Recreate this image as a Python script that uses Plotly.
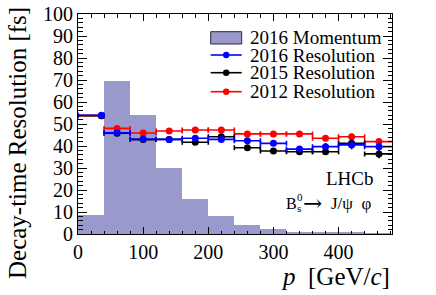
import plotly.graph_objects as go

# ---------------- data ----------------
hist_lo = [0, 40, 80, 120, 160, 200, 240, 280, 320, 360, 400, 440]
hist_hi = [40, 80, 120, 160, 200, 240, 280, 320, 360, 400, 440, 480]
hist_vals = [8.6, 69.7, 54.0, 30.0, 15.9, 8.3, 4.1, 2.4, 1.0, 0.8, 0.5, 0.3]

res_x = [36, 60, 100, 140, 180, 220, 260, 300, 340, 380, 420, 462]
res_lo = [0, 40, 80, 120, 160, 200, 240, 280, 320, 360, 400, 440]
res_hi = [40, 80, 120, 160, 200, 240, 280, 320, 360, 400, 440, 500]

res_2016 = [54.0, 46.0, 43.2, 43.0, 43.5, 43.0, 42.4, 41.2, 38.6, 39.7, 40.5, 39.7]
err_2016 = [0.3, 0.4, 0.4, 0.5, 0.6, 0.7, 0.8, 1.0, 1.3, 1.6, 2.0, 2.2]
res_2015 = [53.8, 45.8, 42.9, 43.0, 41.7, 44.2, 39.2, 37.7, 37.4, 37.4, 41.2, 36.4]
err_2015 = [0.3, 0.4, 0.4, 0.5, 0.6, 0.7, 0.8, 1.0, 1.2, 1.5, 1.8, 2.0]
res_2012 = [53.8, 48.0, 45.9, 46.8, 47.3, 47.3, 45.5, 45.5, 45.5, 43.5, 44.2, 42.0]
err_2012 = [0.3, 0.4, 0.4, 0.5, 0.5, 0.6, 0.7, 0.8, 1.0, 1.2, 1.4, 1.6]

legend_labels = ["2016 Momentum", "2016 Resolution", "2015 Resolution", "2012 Resolution"]
FONT = "Liberation Serif"

fig = go.Figure()

hist_centers = [(a + b) / 2 for a, b in zip(hist_lo, hist_hi)]
hist_widths = [b - a for a, b in zip(hist_lo, hist_hi)]
fig.add_trace(go.Bar(x=hist_centers, y=hist_vals, width=hist_widths,
                     marker=dict(color="rgb(153,153,204)", line=dict(width=0)),
                     showlegend=False))

def res_trace(y, e, color):
    return go.Scatter(
        x=res_x, y=y, mode="markers",
        marker=dict(color=color, size=7),
        error_x=dict(type="data", symmetric=False,
                     array=[h - x for h, x in zip(res_hi, res_x)],
                     arrayminus=[x - l for l, x in zip(res_lo, res_x)],
                     color=color, thickness=1.6, width=2.5),
        error_y=dict(type="data", array=e, color=color, thickness=1.6, width=0),
        showlegend=False, cliponaxis=True)

fig.add_trace(res_trace(res_2012, err_2012, "red"))
fig.add_trace(res_trace(res_2015, err_2015, "black"))
fig.add_trace(res_trace(res_2016, err_2016, "blue"))

W, H = 436, 295
L, R, T, B = 78, 44, 14, 61
PW, PH = W - L - R, H - T - B

def px(xp):
    return (xp - L) / PW

def py(yp):
    return (T + PH - yp) / PH

shapes = []
annotations = []
# manual legend
x0, x1 = px(210.7), px(241.7)
shapes.append(dict(type="rect", xref="paper", yref="paper", x0=x0, x1=x1,
                   y0=py(44), y1=py(31.7), fillcolor="rgb(153,153,204)",
                   line=dict(color="rgb(40,40,60)", width=1)))
rows = [(55, "blue"), (72.7, "black"), (91.7, "red")]
for yrow, col in rows:
    shapes.append(dict(type="line", xref="paper", yref="paper", x0=x0, x1=x1,
                       y0=py(yrow), y1=py(yrow), line=dict(color=col, width=1.6)))
    xc = (210.7 + 241.7) / 2
    shapes.append(dict(type="circle", xref="paper", yref="paper",
                       x0=px(xc - 3.2), x1=px(xc + 3.2), y0=py(yrow + 3.2), y1=py(yrow - 3.2),
                       fillcolor=col, line=dict(color=col, width=0)))
for lab, yrow in zip(legend_labels, [37.8, 55, 72.7, 91.7]):
    annotations.append(dict(text=lab, xref="paper", yref="paper", x=px(248), y=py(yrow),
                            xanchor="left", yanchor="middle", showarrow=False,
                            font=dict(family=FONT, size=19, color="black")))

annotations.append(dict(text="LHCb", xref="paper", yref="paper", x=px(376), y=py(178),
                        xanchor="right", yanchor="middle", showarrow=False,
                        font=dict(family=FONT, size=19, color="black")))
yb = py(203)
annotations.append(dict(text="B", xref="paper", yref="paper", x=px(284), y=yb,
                        xanchor="left", yanchor="middle", showarrow=False,
                        font=dict(family=FONT, size=16, color="black")))
annotations.append(dict(text="0", xref="paper", yref="paper", x=px(294.5), y=yb, yshift=6,
                        xanchor="left", yanchor="middle", showarrow=False,
                        font=dict(family=FONT, size=11, color="black")))
annotations.append(dict(text="s", xref="paper", yref="paper", x=px(294.5), y=yb, yshift=-5,
                        xanchor="left", yanchor="middle", showarrow=False,
                        font=dict(family=FONT, size=11, color="black")))
annotations.append(dict(text="→", xref="paper", yref="paper", x=px(301), y=yb,
                        xanchor="left", yanchor="middle", showarrow=False,
                        font=dict(family="DejaVu Serif", size=23, color="black")))
annotations.append(dict(text="J/ψ&nbsp; φ", xref="paper", yref="paper", x=px(373), y=yb,
                        xanchor="right", yanchor="middle", showarrow=False,
                        font=dict(family=FONT, size=17, color="black")))
# axis titles
annotations.append(dict(text="Decay-time Resolution [fs]", xref="paper", yref="paper",
                        x=px(17), y=py(143), textangle=-90, xanchor="center", yanchor="middle",
                        showarrow=False, font=dict(family=FONT, size=25, color="black")))
annotations.append(dict(text="<i>p</i>&nbsp; [GeV/<i>c</i>]", xref="paper", yref="paper",
                        x=px(392), y=py(276), xanchor="right", yanchor="middle",
                        showarrow=False, font=dict(family=FONT, size=25, color="black")))

fig.update_layout(
    width=W, height=H, margin=dict(l=L, r=R, t=T, b=B, pad=0, autoexpand=False),
    paper_bgcolor="white", plot_bgcolor="white",
    font=dict(family=FONT, size=20, color="black"),
    bargap=0, shapes=shapes, annotations=annotations, showlegend=False,
    xaxis=dict(range=[0, 482], showgrid=False, zeroline=False, automargin=False,
               showline=True, linecolor="black", linewidth=1, mirror="allticks",
               ticks="inside", ticklen=7, tickcolor="black", tickwidth=1,
               tick0=0, dtick=100, tickfont=dict(family=FONT, size=20),
               ticklabeloverflow="allow",
               minor=dict(ticks="inside", ticklen=3.5, dtick=20, tickcolor="black", showgrid=False)),
    yaxis=dict(range=[0, 100], showgrid=False, zeroline=False, automargin=False,
               showline=True, linecolor="black", linewidth=1, mirror="allticks",
               ticks="inside", ticklen=9, tickcolor="black", tickwidth=1,
               tick0=0, dtick=10, tickfont=dict(family=FONT, size=20),
               ticklabeloverflow="allow",
               minor=dict(ticks="inside", ticklen=4.5, dtick=2, tickcolor="black", showgrid=False)),
)

fig.write_html("out.html", config={"displayModeBar": False},
               post_script="document.body.style.margin='0';document.body.style.overflow='hidden';")
